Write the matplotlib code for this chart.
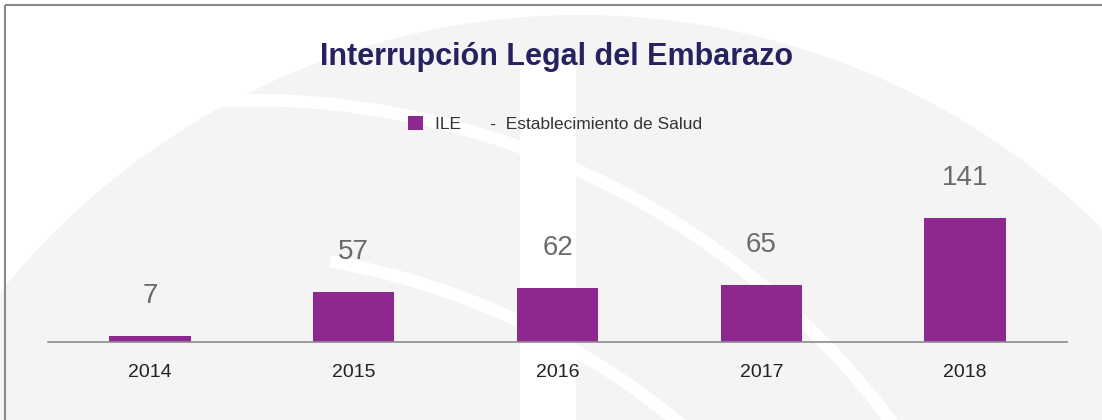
import matplotlib.pyplot as plt
from matplotlib.patches import Circle, Rectangle, Arc

years = ['2014', '2015', '2016', '2017', '2018']
ile = [7, 57, 62, 65, 141]

title = 'Interrupción Legal del Embarazo'
legend_label = 'ILE      -  Establecimiento de Salud'

fonts = ['Liberation Sans', 'DejaVu Sans']
bar_color = '#8E2790'

fig = plt.figure(figsize=(11.02, 4.2), dpi=100)
fig.patch.set_facecolor('white')

# faint watermark in the background
W, H = 1102, 420
bg = fig.add_axes([0, 0, 1, 1], zorder=0)
bg.set_xlim(0, W)
bg.set_ylim(H, 0)
bg.axis('off')
bg.add_patch(Circle((580, 760), 745, color='#f4f4f4', lw=0))
bg.add_patch(Rectangle((520, 60), 56, H, color='white', lw=0))
bg.add_patch(Arc((250, 900), 1600, 1600, theta1=250, theta2=325, color='white', lw=9))
bg.add_patch(Arc((200, 1000), 1500, 1500, theta1=280, theta2=330, color='white', lw=9))
bg.add_patch(Rectangle((5, 5), W + 10, H + 10, fill=False, ec='#8a8a8a', lw=1.5))

ax = fig.add_axes([48 / W, (H - 342) / H, (1067 - 48) / W, 180 / H], zorder=1)
ax.patch.set_alpha(0)
x = range(len(years))
bars = ax.bar(x, ile, width=0.4, color=bar_color, label=legend_label)
ax.set_xlim(-0.5, len(years) - 0.5)
ax.set_ylim(0, 180 / 0.879)

for xi, v in zip(x, ile):
    ax.annotate(str(v), (xi, v), xytext=(0, 40), textcoords='offset pixels',
                ha='center', va='center', fontsize=20, color='#6b6b6b', family=fonts)

ax.set_xticks(list(x))
ax.set_xticklabels(years, fontsize=14, color='#222222', family=fonts)
ax.tick_params(axis='x', length=0, pad=16)
ax.set_yticks([])
for s in ['top', 'right', 'left']:
    ax.spines[s].set_visible(False)
ax.spines['bottom'].set_color('#8c8c8c')
ax.spines['bottom'].set_linewidth(1.2)

fig.text(557 / W, 1 - 57 / H, title, ha='center', va='center', fontsize=22,
         fontweight='bold', color='#27225f', family=fonts)

leg = fig.legend(loc='center', bbox_to_anchor=(555 / W, 1 - 124 / H), frameon=False,
                 prop={'family': fonts, 'size': 12.5}, handlelength=0.9, handleheight=0.9,
                 handletextpad=0.7, labelcolor='#333333')

fig.savefig('out.png', dpi=100, facecolor='white')
